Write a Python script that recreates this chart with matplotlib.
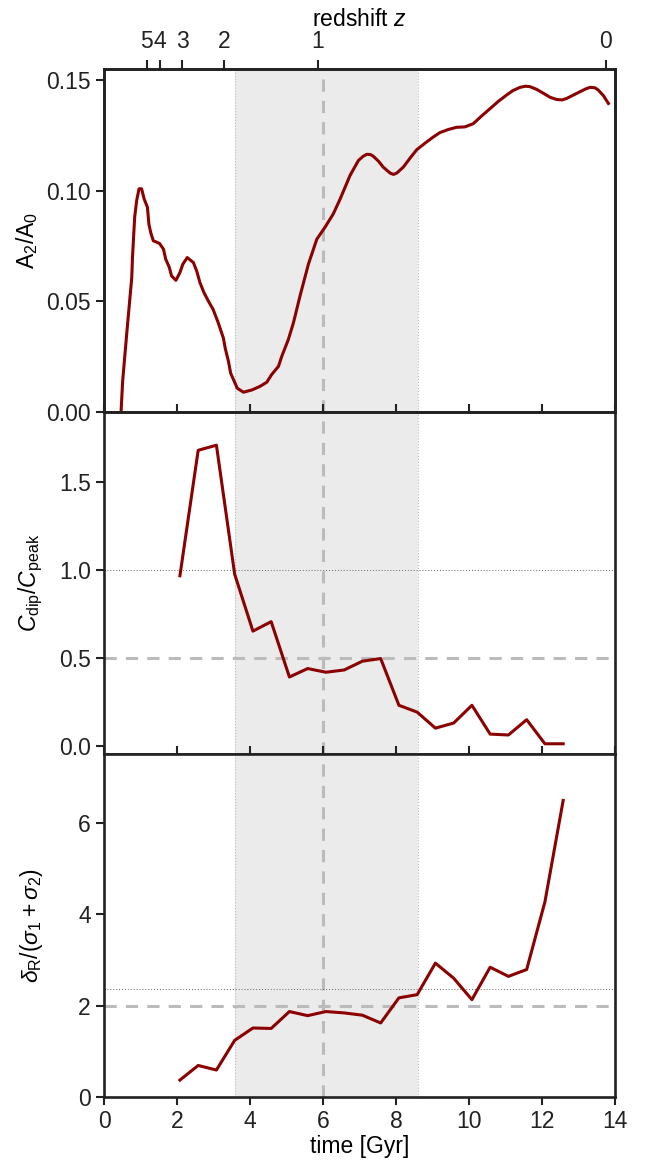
import numpy as np
import matplotlib
matplotlib.use('Agg')
from matplotlib import pyplot as plt

plt.rcParams['font.family'] = ['Liberation Sans', 'DejaVu Sans']
plt.rcParams['mathtext.fontset'] = 'custom'
plt.rcParams['mathtext.rm'] = 'Liberation Sans'
plt.rcParams['mathtext.it'] = 'Liberation Sans:italic'
plt.rcParams['mathtext.bf'] = 'Liberation Sans:bold'
plt.rcParams['font.size'] = 16.5
plt.rcParams['axes.linewidth'] = 1.9
plt.rcParams['axes.edgecolor'] = '#222222'

# bar strength A2/A0 vs time [Gyr]
t_a2 = [0.47, 0.51, 0.62, 0.76, 0.78, 0.84, 0.895, 0.96, 1.03, 1.10, 1.19, 1.23, 1.28,
        1.35, 1.52, 1.63, 1.69, 1.79, 1.85, 1.97, 2.08, 2.16, 2.28, 2.45, 2.54, 2.63,
        2.74, 2.86, 2.99, 3.13, 3.27, 3.32, 3.41, 3.47, 3.59, 3.65, 3.82, 4.05, 4.27,
        4.46, 4.59, 4.78, 4.87, 5.05, 5.19, 5.37, 5.60, 5.83, 6.05, 6.28, 6.47, 6.74,
        6.97, 7.10, 7.20, 7.30, 7.38, 7.52, 7.65, 7.84, 7.93, 8.02, 8.20, 8.40, 8.57,
        8.80, 9.02, 9.20, 9.43, 9.65, 9.89, 10.12, 10.35, 10.58, 10.80, 11.03, 11.20,
        11.40, 11.55, 11.67, 11.85, 12.04, 12.22, 12.40, 12.55, 12.68, 12.86, 13.04,
        13.20, 13.32, 13.45, 13.54, 13.68, 13.82]
a2 = [0.0008, 0.0136, 0.0348, 0.0606, 0.0697, 0.0879, 0.0955, 0.1008, 0.1008, 0.0962,
      0.0924, 0.0848, 0.081, 0.0773, 0.0761, 0.0735, 0.069, 0.0652, 0.0614, 0.0594,
      0.0629, 0.0667, 0.0697, 0.0674, 0.0636, 0.0583, 0.0538, 0.050, 0.0462, 0.0402,
      0.0333, 0.0288, 0.0227, 0.0174, 0.0129, 0.0106, 0.0088, 0.0098, 0.0114, 0.0133,
      0.0167, 0.0205, 0.025, 0.0326, 0.0402, 0.0523, 0.0667, 0.078, 0.0833, 0.0894,
      0.0962, 0.1068, 0.1136, 0.1155, 0.1164, 0.1163, 0.1155, 0.1133, 0.1106, 0.1079,
      0.1073, 0.1079, 0.1106, 0.1150, 0.1185, 0.1215, 0.1242, 0.1262, 0.1276, 0.1286,
      0.1288, 0.1303, 0.1338, 0.1371, 0.1403, 0.1432, 0.1452, 0.1467, 0.1472, 0.147,
      0.1458, 0.144, 0.1422, 0.1412, 0.1410, 0.1417, 0.1432, 0.1447, 0.1460, 0.1467,
      0.1465, 0.1455, 0.1430, 0.1394]

# snapshot times for the two lower panels
t_snap = [2.08, 2.58, 3.08, 3.58, 4.08, 4.58, 5.08, 5.58, 6.08, 6.58, 7.08, 7.58,
          8.08, 8.58, 9.08, 9.58, 10.08, 10.58, 11.08, 11.58, 12.08, 12.58]
c_ratio = [0.966, 1.68, 1.709, 0.975, 0.651, 0.705, 0.39, 0.438, 0.417, 0.43, 0.48,
           0.495, 0.229, 0.19, 0.099, 0.128, 0.229, 0.065, 0.06, 0.147, 0.01, 0.01]
delta_r = [0.37, 0.69, 0.59, 1.24, 1.51, 1.50, 1.87, 1.78, 1.87, 1.84, 1.79, 1.62,
           2.17, 2.24, 2.93, 2.60, 2.13, 2.84, 2.64, 2.79, 4.27, 6.49]

# redshift axis
z_labels = ['5', '4', '3', '2', '1', '0']
z_ages = [1.17, 1.53, 2.15, 3.28, 5.85, 13.75]

shade = (3.6, 8.6)
t_mark = 6.0
red = '#8b0000'

fig, axes = plt.subplots(3, 1, figsize=(6.46, 11.69), dpi=100, sharex=True)
fig.subplots_adjust(left=0.161, right=0.952, top=0.941, bottom=0.0616, hspace=0)

def decorate(ax):
    ax.axvspan(shade[0], shade[1], color='#ebebeb', lw=0, zorder=0)
    for x in shade:
        ax.axvline(x, color='#bbbbbb', lw=0.8, ls=':', zorder=1)
    ax.axvline(t_mark, color='#bbbbbb', lw=2.2, ls=(0, (4, 3)), zorder=1)

ax1, ax2, ax3 = axes
for ax in axes:
    decorate(ax)
    ax.tick_params(axis='y', direction='out', length=6, width=1.5, colors='#222222', labelcolor='#222222')
    ax.tick_params(axis='x', length=6, width=1.5, colors='#222222', labelcolor='#222222')

ax1.plot(t_a2, a2, color=red, lw=2.2, zorder=3)
ax1.set_ylim(0, 0.155)
ax1.set_yticks([0.0, 0.05, 0.10, 0.15])
ax1.set_yticklabels(['0.00', '0.05', '0.10', '0.15'])
ax1.set_ylabel(r'$\mathrm{A_2/A_0}$')
ax1.tick_params(axis='x', direction='in')

ax2.plot(t_snap, c_ratio, color=red, lw=2.2, zorder=3)
ax2.axhline(1.0, color='#666666', lw=0.7, ls=(0, (1, 2)), zorder=1)
ax2.axhline(0.5, color='#bbbbbb', lw=2.2, ls=(0, (4, 3)), zorder=1)
ax2.set_ylim(-0.05, 1.9)
ax2.set_yticks([0.0, 0.5, 1.0, 1.5])
ax2.set_ylabel(r'$C_\mathrm{dip}/C_\mathrm{peak}$')
ax2.tick_params(axis='x', direction='in')

ax3.plot(t_snap, delta_r, color=red, lw=2.2, zorder=3)
ax3.axhline(2.36, color='#666666', lw=0.7, ls=(0, (1, 2)), zorder=1)
ax3.axhline(2.0, color='#bbbbbb', lw=2.2, ls=(0, (4, 3)), zorder=1)
ax3.set_ylim(0, 7.5)
ax3.set_yticks([0, 2, 4, 6])
ax3.set_ylabel(r'$\delta_\mathrm{R}/(\sigma_1+\sigma_2)$')
ax3.tick_params(axis='x', direction='out')
ax3.set_xlim(0, 14)
ax3.set_xticks([0, 2, 4, 6, 8, 10, 12, 14])
ax3.set_xlabel('time [Gyr]', labelpad=1)

ax1.yaxis.set_label_coords(-0.125, 0.5)
ax2.yaxis.set_label_coords(-0.115, 0.5)
ax3.yaxis.set_label_coords(-0.115, 0.5)

axz = ax1.twiny()
axz.set_xlim(ax1.get_xlim())
axz.set_xticks(z_ages)
axz.set_xticklabels(z_labels)
axz.tick_params(axis='x', direction='out', length=6.5, width=1.5, pad=5, colors='#222222')
axz.set_xlabel('redshift $z$', labelpad=3)

fig.savefig('out.png', dpi=100)
